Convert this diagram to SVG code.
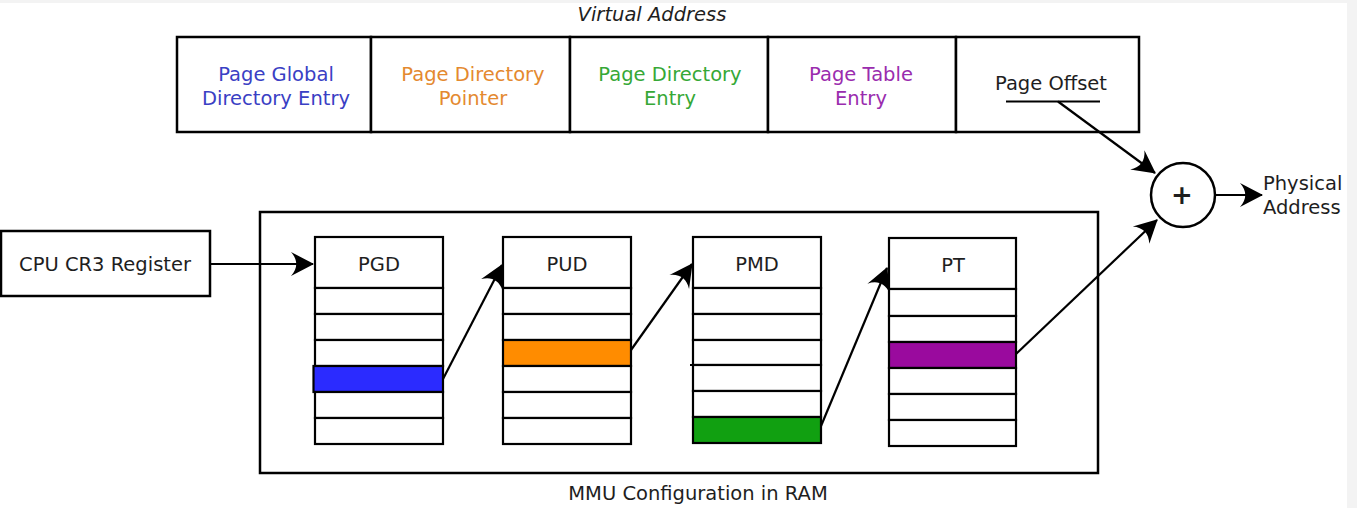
<svg xmlns="http://www.w3.org/2000/svg" width="1357" height="508" viewBox="0 0 1357 508">
<defs>
<style>
.t{font-family:"DejaVu Sans","Noto Sans",sans-serif;font-size:19.5px;fill:#1e1e1e;text-anchor:middle}
.box{fill:#ffffff;stroke:#000;stroke-width:2.5}
.row{fill:#ffffff;stroke:#000;stroke-width:2.2}
.ln{fill:none;stroke:#000;stroke-width:2}
.ar{fill:none;stroke:#000;stroke-width:2.2;marker-end:url(#ah)}
</style>
<marker id="ah" markerUnits="userSpaceOnUse" viewBox="-24 -13 26 26" markerWidth="26" markerHeight="26" refX="0" refY="0" orient="auto">
<path d="M1,0 L-22,-12 C-15,-4 -15,4 -22,12 Z" fill="#000"/>
</marker>
</defs>
<rect x="0" y="0" width="1357" height="508" fill="#ffffff"/>
<rect x="0" y="0" width="1357" height="3" fill="#f3f3f3"/>
<rect x="1347" y="0" width="10" height="508" fill="#f3f3f3"/>

<text class="t" x="652" y="21" font-style="italic">Virtual Address</text>

<g id="va-pgde">
<rect class="box" x="177" y="37" width="194" height="95"/>
<text class="t" x="276" y="81" style="fill:#3a40c4">Page Global</text>
<text class="t" x="276" y="105" style="fill:#3a40c4">Directory Entry</text>
</g>
<g id="va-pdp">
<rect class="box" x="371" y="37" width="199" height="95"/>
<text class="t" x="473" y="81" style="fill:#e4892f">Page Directory</text>
<text class="t" x="473" y="105" style="fill:#e4892f">Pointer</text>
</g>
<g id="va-pde">
<rect class="box" x="570" y="37" width="198" height="95"/>
<text class="t" x="670" y="81" style="fill:#36a836">Page Directory</text>
<text class="t" x="670" y="105" style="fill:#36a836">Entry</text>
</g>
<g id="va-pte">
<rect class="box" x="768" y="37" width="188" height="95"/>
<text class="t" x="861" y="81" style="fill:#9a2cae">Page Table</text>
<text class="t" x="861" y="105" style="fill:#9a2cae">Entry</text>
</g>
<g id="va-offset">
<rect class="box" x="956" y="37" width="183" height="95"/>
<text class="t" x="1051" y="90">Page Offset</text>
<line class="ln" x1="1006" y1="101.5" x2="1100" y2="101.5" stroke-width="2.5"/>
</g>

<g id="cr3">
<rect class="box" x="1" y="231" width="209" height="65"/>
<text class="t" x="105" y="271">CPU CR3 Register</text>
</g>

<g id="mmu">
<rect class="box" x="260" y="212" width="838" height="261" fill="none"/>
<text class="t" x="698" y="500">MMU Configuration in RAM</text>
</g>

<g id="pgd">
<rect class="row" x="315" y="237" width="128" height="51"/>
<rect class="row" x="315" y="288" width="128" height="26"/>
<rect class="row" x="315" y="314" width="128" height="26"/>
<rect class="row" x="315" y="340" width="128" height="26"/>
<rect class="row" x="313.5" y="366" width="129.5" height="26" style="fill:#2b2bff"/>
<rect class="row" x="315" y="392" width="128" height="26"/>
<rect class="row" x="315" y="418" width="128" height="26"/>
<text class="t" x="379" y="271">PGD</text>
</g>

<g id="pud">
<rect class="row" x="503" y="237" width="128" height="51"/>
<rect class="row" x="503" y="288" width="128" height="26"/>
<rect class="row" x="503" y="314" width="128" height="26"/>
<rect class="row" x="503" y="340" width="128" height="26" style="fill:#ff8c00"/>
<rect class="row" x="503" y="366" width="128" height="26"/>
<rect class="row" x="503" y="392" width="128" height="26"/>
<rect class="row" x="503" y="418" width="128" height="26"/>
<text class="t" x="567" y="271">PUD</text>
</g>

<g id="pmd">
<rect class="row" x="693" y="237" width="128" height="51"/>
<rect class="row" x="693" y="288" width="128" height="26"/>
<rect class="row" x="693" y="314" width="128" height="26"/>
<rect class="row" x="693" y="340" width="128" height="25"/>
<rect class="row" x="693" y="365" width="128" height="26"/>
<rect class="row" x="693" y="391" width="128" height="26"/>
<rect class="row" x="693" y="417" width="128" height="26" style="fill:#11a011"/>
<line class="ln" x1="690" y1="365" x2="694" y2="365"/>
<text class="t" x="757" y="271">PMD</text>
</g>

<g id="pt">
<rect class="row" x="889" y="238" width="127" height="51"/>
<rect class="row" x="889" y="289" width="127" height="27"/>
<rect class="row" x="889" y="316" width="127" height="26"/>
<rect class="row" x="889" y="342" width="127" height="26" style="fill:#9a0a9e"/>
<rect class="row" x="889" y="368" width="127" height="26"/>
<rect class="row" x="889" y="394" width="127" height="26"/>
<rect class="row" x="889" y="420" width="127" height="26"/>
<text class="t" x="953" y="272">PT</text>
</g>

<g id="adder">
<circle cx="1183" cy="195" r="32" fill="#ffffff" stroke="#000" stroke-width="2.5"/>
<text class="t" x="1182" y="204" style="font-size:26px;font-weight:bold">+</text>
</g>

<g id="phys">
<text class="t" x="1263" y="190" style="text-anchor:start">Physical</text>
<text class="t" x="1263" y="214" style="text-anchor:start">Address</text>
</g>

<g id="connectors">
<line class="ar" x1="210" y1="264" x2="313" y2="264"/>
<line class="ar" x1="443" y1="379" x2="502" y2="265"/>
<line class="ar" x1="631" y1="350" x2="692" y2="264"/>
<line class="ar" x1="821" y1="426" x2="887" y2="268"/>
<line class="ar" x1="1016" y1="354" x2="1157" y2="220"/>
<line class="ar" x1="1058" y1="101.5" x2="1155" y2="173"/>
<line class="ar" x1="1215" y1="195" x2="1262" y2="195"/>
</g>
</svg>
